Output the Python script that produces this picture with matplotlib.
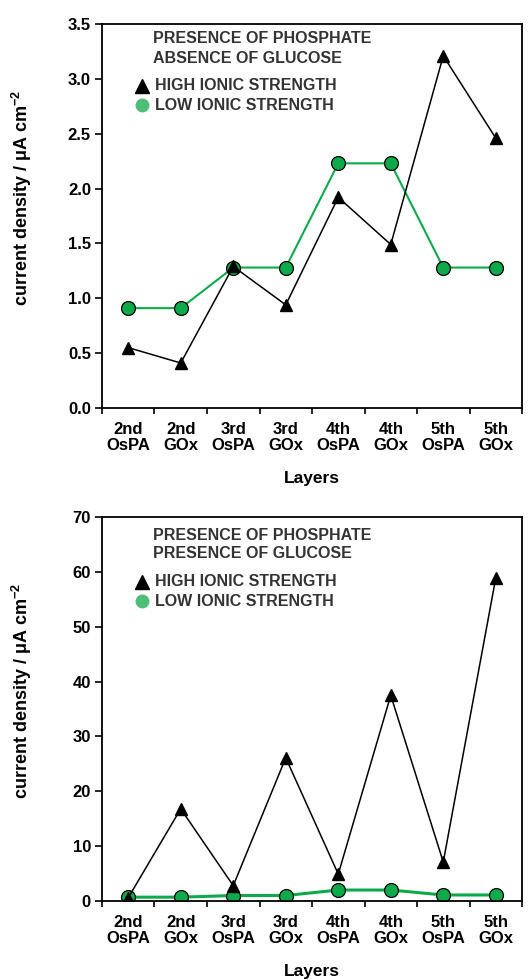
import matplotlib
matplotlib.use("Agg")
import matplotlib.pyplot as plt
import numpy as np

plt.rcParams['font.family'] = ['Liberation Sans', 'DejaVu Sans']
plt.rcParams['font.weight'] = 'bold'
plt.rcParams['mathtext.fontset'] = 'custom'
plt.rcParams['mathtext.rm'] = 'Liberation Sans:bold'
plt.rcParams['mathtext.bf'] = 'Liberation Sans:bold'

layers = ["2nd\nOsPA", "2nd\nGOx", "3rd\nOsPA", "3rd\nGOx",
          "4th\nOsPA", "4th\nGOx", "5th\nOsPA", "5th\nGOx"]

# top: phosphate, no glucose
high_noglu = [0.55, 0.41, 1.29, 0.94, 1.92, 1.49, 3.21, 2.46]
low_noglu = [0.91, 0.91, 1.28, 1.28, 2.23, 2.23, 1.28, 1.28]

# bottom: phosphate + glucose
high_glu = [0.6, 16.8, 2.8, 26.1, 4.9, 37.5, 7.1, 58.9]
low_glu = [0.7, 0.7, 1.0, 1.0, 2.0, 2.0, 1.1, 1.1]

titles = [["PRESENCE OF PHOSPHATE", "ABSENCE OF GLUCOSE"],
          ["PRESENCE OF PHOSPHATE", "PRESENCE OF GLUCOSE"]]
ylims = [(0, 3.5), (0, 70)]
yticks = [np.arange(0, 3.51, 0.5), np.arange(0, 71, 10)]
yfmt = ["{:.1f}", "{:.0f}"]
# vertical spots (axes fraction) of title lines and legend rows
text_y = [[0.961, 0.911, 0.839, 0.789], [0.953, 0.906, 0.831, 0.781]]

green = "#0daa4b"
green_leg = "#4dbd78"
txt_col = '#333333'

fig = plt.figure(figsize=(5.29, 9.8), dpi=100)
ax_top = fig.add_axes([0.1928, 0.5837, 0.794, 0.3918])
ax_bot = fig.add_axes([0.1928, 0.0806, 0.794, 0.3918])

x = np.arange(len(layers))
for i, (ax, hi, lo) in enumerate([(ax_top, high_noglu, low_noglu),
                                  (ax_bot, high_glu, low_glu)]):
    lw_green = 1.5 if i == 0 else 2.2
    ax.plot(x, lo, color=green, lw=lw_green, marker='o', ms=10,
            mfc=green, mec='black', mew=0.9, zorder=2)
    ax.plot(x, hi, color='black', lw=1.1, marker='^', ms=9,
            mfc='black', mec='black', zorder=3)

    ax.set_xlim(-0.5, 7.5)
    ax.set_ylim(*ylims[i])
    ax.set_xticks(x)
    ax.set_xticklabels(layers, fontsize=12, fontweight='bold', linespacing=1.1)
    ax.set_xticks(np.arange(-0.5, 8, 1), minor=True)
    ax.tick_params(axis='x', which='major', length=0, pad=10)
    ax.tick_params(axis='x', which='minor', length=4, width=1.2, direction='out')
    ax.set_yticks(yticks[i])
    ax.set_yticklabels([yfmt[i].format(v) for v in yticks[i]],
                       fontsize=12, fontweight='bold')
    ax.tick_params(axis='y', length=5, width=1.2, direction='out', pad=3)
    for s in ax.spines.values():
        s.set_linewidth(1.3)

    ax.set_xlabel("Layers", fontsize=12.5, fontweight='bold', labelpad=13)
    ax.set_ylabel(r"current density / μA cm$^{-2}$", fontsize=13,
                  fontweight='bold')
    ax.yaxis.set_label_coords(-0.162, 0.548)

    ty = text_y[i]
    ax.text(0.121, ty[0], titles[i][0], transform=ax.transAxes, fontsize=11.5,
            fontweight='bold', color=txt_col, va='center')
    ax.text(0.121, ty[1], titles[i][1], transform=ax.transAxes, fontsize=11.5,
            fontweight='bold', color=txt_col, va='center')

    # legend entries
    ax.plot([0.096], [ty[2]], transform=ax.transAxes, marker='^', ms=10,
            color='black', ls='none')
    ax.plot([0.096], [ty[3]], transform=ax.transAxes, marker='o', ms=9,
            color=green_leg, ls='none')
    ax.text(0.126, ty[2], "HIGH IONIC STRENGTH", transform=ax.transAxes,
            fontsize=11.5, fontweight='bold', color=txt_col, va='center')
    ax.text(0.126, ty[3], "LOW IONIC STRENGTH", transform=ax.transAxes,
            fontsize=11.5, fontweight='bold', color=txt_col, va='center')

fig.savefig("out.png", dpi=100)
